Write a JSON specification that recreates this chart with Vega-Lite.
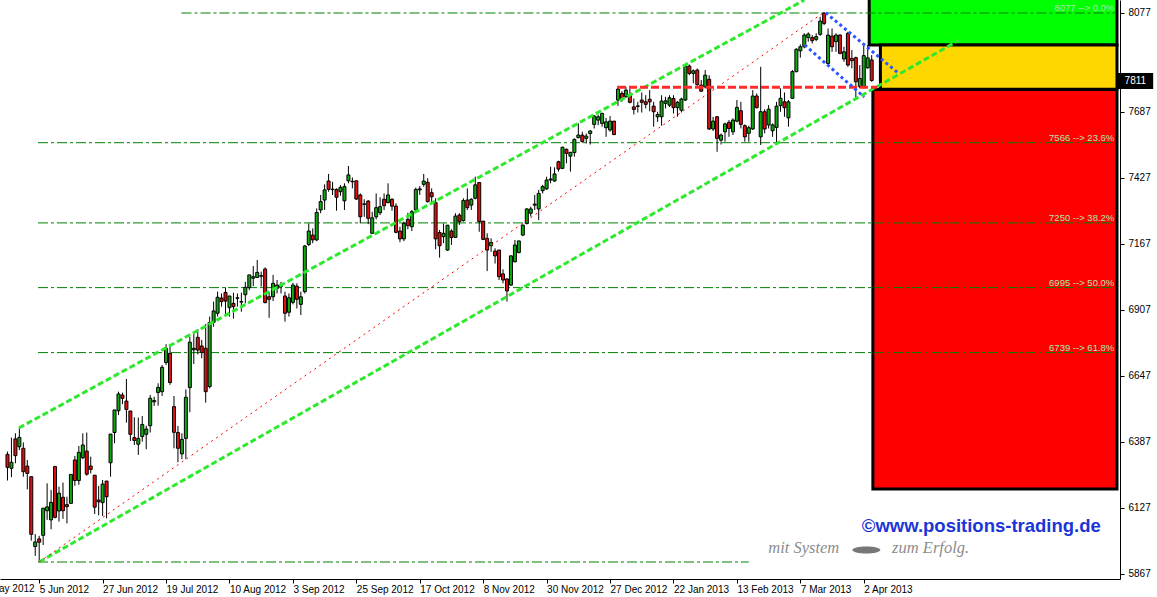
{
  "$schema": "https://vega.github.io/schema/vega-lite/v6.json",
  "width": 1120,
  "height": 579,
  "autosize": "none",
  "padding": {"left": 0, "top": 0, "right": 37, "bottom": 18},
  "background": "white",
  "config": {"view": {"stroke": null}},
  "layer": [
    {
      "data": {"values": [
        {"zone": "green", "k": 217.375, "k2": 279.875, "p": 7951, "p2": 8140},
        {"zone": "yellow", "k": 220.2, "k2": 279.875, "p": 7776.4, "p2": 7951},
        {"zone": "red", "k": 218.3, "k2": 279.875, "p": 6201.5, "p2": 7775.5}
      ]},
      "mark": {"type": "rect", "stroke": "black", "strokeWidth": 3},
      "encoding": {
        "x": {"field": "k", "type": "quantitative", "scale": {"domain": [-0.625, 279.375], "nice": false, "zero": false},
          "axis": {"orient": "bottom", "values": [8, 24, 40, 56, 72, 88, 104, 120, 136, 152, 168, 184, 200, 216],
            "labelExpr": "['5 Jun 2012','27 Jun 2012','19 Jul 2012','10 Aug 2012','3 Sep 2012','25 Sep 2012','17 Oct 2012','8 Nov 2012','30 Nov 2012','27 Dec 2012','22 Jan 2013','13 Feb 2013','7 Mar 2013','2 Apr 2013'][(datum.value-8)/16]",
            "labelAlign": "left", "labelBaseline": "top", "labelPadding": 1, "labelDx": 1, "tickSize": 4, "tickColor": "black",
            "domainColor": "black", "labelColor": "black", "labelFont": "Liberation Sans", "labelFontSize": 10,
            "grid": false, "title": null, "labelOverlap": false, "labelBound": false, "labelFlush": false}},
        "x2": {"field": "k2"},
        "y": {"field": "p", "type": "quantitative", "scale": {"domain": [5847, 8128.2], "nice": false, "zero": false},
          "axis": {"orient": "right", "values": [5867, 5997, 6127, 6257, 6387, 6517, 6647, 6777, 6907, 7037, 7167, 7297, 7427, 7557, 7687, 7947, 8077],
            "format": "d", "tickSize": 4, "tickColor": "black", "labelPadding": 4, "labelBaseline": "middle", "domainColor": "black", "labelColor": "black",
            "labelFont": "Liberation Sans", "labelFontSize": 10, "grid": false, "title": null, "labelOverlap": false, "labelBound": false, "labelFlush": false}},
        "y2": {"field": "p2"},
        "fill": {"field": "zone", "type": "nominal", "scale": {"domain": ["green", "yellow", "red"], "range": ["#00ff00", "#ffd700", "#ff0000"]}, "legend": null}
      }
    },
    {
      "data": {"values": [
        {"k": 43.9, "k2": 279.375, "p": 8077},
        {"k": 7.7, "k2": 279.375, "p": 7566},
        {"k": 7.7, "k2": 279.375, "p": 7250},
        {"k": 7.7, "k2": 279.375, "p": 6995},
        {"k": 7.7, "k2": 279.375, "p": 6739},
        {"k": 7.7, "k2": 187, "p": 5914}
      ]},
      "mark": {"type": "rule", "color": "#008000", "strokeWidth": 1, "strokeDash": [10, 3, 3, 3]},
      "encoding": {
        "x": {"field": "k", "type": "quantitative", "scale": {"domain": [-0.625, 279.375], "nice": false, "zero": false}, "axis": {"orient": "bottom", "title": null}},
        "x2": {"field": "k2"},
        "y": {"field": "p", "type": "quantitative", "scale": {"domain": [5847, 8128.2], "nice": false, "zero": false}, "axis": {"orient": "right", "title": null}}
      }
    },
    {
      "data": {"name": "candles", "values": [
        {"k":0,"o":6338,"h":6349,"l":6235,"c":6287},{"k":1,"o":6283,"h":6404,"l":6248,"c":6307},{"k":2,"o":6399,"h":6421,"l":6303,"c":6333},
        {"k":3,"o":6368,"h":6441,"l":6355,"c":6405},{"k":4,"o":6362,"h":6385,"l":6250,"c":6270},{"k":5,"o":6292,"h":6316,"l":6200,"c":6263},
        {"k":6,"o":6250,"h":6252,"l":5998,"c":6023},{"k":7,"o":5975,"h":6024,"l":5938,"c":5993},{"k":8,"o":6005,"h":6017,"l":5914,"c":5992},
        {"k":9,"o":6019,"h":6126,"l":5981,"c":6126},{"k":10,"o":6116,"h":6224,"l":6080,"c":6131},{"k":11,"o":6080,"h":6198,"l":6043,"c":6149},
        {"k":12,"o":6290,"h":6293,"l":6086,"c":6090},{"k":13,"o":6115,"h":6211,"l":6073,"c":6185},{"k":14,"o":6169,"h":6227,"l":6084,"c":6116},
        {"k":15,"o":6140,"h":6171,"l":6066,"c":6132},{"k":16,"o":6145,"h":6259,"l":6145,"c":6259},{"k":17,"o":6316,"h":6332,"l":6214,"c":6235},
        {"k":18,"o":6235,"h":6371,"l":6218,"c":6346},{"k":19,"o":6325,"h":6421,"l":6319,"c":6375},{"k":20,"o":6351,"h":6424,"l":6254,"c":6260},
        {"k":21,"o":6292,"h":6329,"l":6263,"c":6279},{"k":22,"o":6256,"h":6256,"l":6103,"c":6130},{"k":23,"o":6158,"h":6214,"l":6098,"c":6151},
        {"k":24,"o":6148,"h":6237,"l":6095,"c":6221},{"k":25,"o":6233,"h":6233,"l":6086,"c":6171},{"k":26,"o":6305,"h":6418,"l":6250,"c":6418},
        {"k":27,"o":6424,"h":6513,"l":6382,"c":6513},{"k":28,"o":6510,"h":6585,"l":6493,"c":6576},{"k":29,"o":6572,"h":6581,"l":6536,"c":6559},
        {"k":30,"o":6548,"h":6635,"l":6463,"c":6515},{"k":31,"o":6509,"h":6509,"l":6391,"c":6417},{"k":32,"o":6404,"h":6484,"l":6375,"c":6393},
        {"k":33,"o":6378,"h":6483,"l":6336,"c":6401},{"k":34,"o":6408,"h":6489,"l":6388,"c":6456},{"k":35,"o":6417,"h":6451,"l":6358,"c":6438},
        {"k":36,"o":6451,"h":6572,"l":6424,"c":6559},{"k":37,"o":6545,"h":6565,"l":6529,"c":6550},{"k":38,"o":6582,"h":6618,"l":6530,"c":6602},
        {"k":39,"o":6585,"h":6690,"l":6568,"c":6681},{"k":40,"o":6700,"h":6772,"l":6690,"c":6756},{"k":41,"o":6736,"h":6769,"l":6612,"c":6621},
        {"k":42,"o":6526,"h":6568,"l":6362,"c":6425},{"k":43,"o":6424,"h":6450,"l":6307,"c":6362},{"k":44,"o":6340,"h":6421,"l":6319,"c":6397},
        {"k":45,"o":6401,"h":6594,"l":6319,"c":6563},{"k":46,"o":6601,"h":6802,"l":6504,"c":6780},{"k":47,"o":6750,"h":6812,"l":6694,"c":6756},
        {"k":48,"o":6799,"h":6831,"l":6732,"c":6749},{"k":49,"o":6765,"h":6789,"l":6717,"c":6739},{"k":50,"o":6756,"h":6852,"l":6542,"c":6585},
        {"k":51,"o":6605,"h":6881,"l":6598,"c":6858},{"k":52,"o":6858,"h":6940,"l":6841,"c":6903},{"k":53,"o":6894,"h":6979,"l":6881,"c":6957},
        {"k":54,"o":6954,"h":6972,"l":6920,"c":6940},{"k":55,"o":6976,"h":6996,"l":6885,"c":6942},{"k":56,"o":6916,"h":6962,"l":6881,"c":6962},
        {"k":57,"o":6933,"h":6975,"l":6873,"c":6920},{"k":58,"o":6953,"h":6972,"l":6920,"c":6955},{"k":59,"o":6938,"h":6975,"l":6900,"c":6940},
        {"k":60,"o":6967,"h":7018,"l":6933,"c":6996},{"k":61,"o":6995,"h":7045,"l":6985,"c":7045},{"k":62,"o":7032,"h":7080,"l":7001,"c":7038},
        {"k":63,"o":7035,"h":7104,"l":7035,"c":7055},{"k":64,"o":7040,"h":7058,"l":6999,"c":7042},{"k":65,"o":7068,"h":7075,"l":6933,"c":6936},
        {"k":66,"o":6959,"h":6979,"l":6876,"c":6949},{"k":67,"o":6959,"h":7045,"l":6942,"c":7012},{"k":68,"o":6992,"h":7025,"l":6972,"c":7005},
        {"k":69,"o":7000,"h":7018,"l":6972,"c":7002},{"k":70,"o":6962,"h":6979,"l":6861,"c":6894},{"k":71,"o":6898,"h":6972,"l":6881,"c":6955},
        {"k":72,"o":6937,"h":7014,"l":6929,"c":7005},{"k":73,"o":7001,"h":7012,"l":6913,"c":6949},{"k":74,"o":6929,"h":6979,"l":6887,"c":6959},
        {"k":75,"o":6979,"h":7163,"l":6972,"c":7159},{"k":76,"o":7165,"h":7248,"l":7159,"c":7218},{"k":77,"o":7202,"h":7228,"l":7170,"c":7183},
        {"k":78,"o":7183,"h":7307,"l":7178,"c":7291},{"k":79,"o":7301,"h":7360,"l":7288,"c":7334},{"k":80,"o":7340,"h":7402,"l":7301,"c":7380},
        {"k":81,"o":7415,"h":7443,"l":7373,"c":7382},{"k":82,"o":7381,"h":7412,"l":7360,"c":7383},{"k":83,"o":7382,"h":7386,"l":7298,"c":7351},
        {"k":84,"o":7373,"h":7399,"l":7357,"c":7390},{"k":85,"o":7337,"h":7406,"l":7301,"c":7393},{"k":86,"o":7416,"h":7474,"l":7406,"c":7439},
        {"k":87,"o":7414,"h":7429,"l":7386,"c":7412},{"k":88,"o":7416,"h":7416,"l":7340,"c":7344},{"k":89,"o":7360,"h":7366,"l":7248,"c":7274},
        {"k":90,"o":7325,"h":7343,"l":7274,"c":7323},{"k":91,"o":7336,"h":7340,"l":7245,"c":7268},{"k":92,"o":7209,"h":7294,"l":7206,"c":7270},
        {"k":93,"o":7274,"h":7366,"l":7264,"c":7310},{"k":94,"o":7290,"h":7351,"l":7281,"c":7314},{"k":95,"o":7343,"h":7366,"l":7301,"c":7318},
        {"k":96,"o":7330,"h":7406,"l":7327,"c":7360},{"k":97,"o":7343,"h":7347,"l":7298,"c":7316},{"k":98,"o":7316,"h":7327,"l":7209,"c":7213},
        {"k":99,"o":7218,"h":7235,"l":7174,"c":7187},{"k":100,"o":7187,"h":7255,"l":7178,"c":7248},{"k":101,"o":7264,"h":7290,"l":7225,"c":7239},
        {"k":102,"o":7235,"h":7301,"l":7218,"c":7294},{"k":103,"o":7301,"h":7389,"l":7294,"c":7382},{"k":104,"o":7380,"h":7395,"l":7360,"c":7384},
        {"k":105,"o":7402,"h":7443,"l":7393,"c":7415},{"k":106,"o":7410,"h":7426,"l":7330,"c":7334},{"k":107,"o":7369,"h":7386,"l":7327,"c":7353},
        {"k":108,"o":7330,"h":7347,"l":7146,"c":7187},{"k":109,"o":7212,"h":7222,"l":7113,"c":7160},{"k":110,"o":7196,"h":7248,"l":7170,"c":7209},
        {"k":111,"o":7143,"h":7241,"l":7140,"c":7241},{"k":112,"o":7218,"h":7225,"l":7163,"c":7192},{"k":113,"o":7193,"h":7288,"l":7192,"c":7277},
        {"k":114,"o":7281,"h":7288,"l":7242,"c":7255},{"k":115,"o":7259,"h":7347,"l":7255,"c":7338},{"k":116,"o":7340,"h":7386,"l":7301,"c":7310},
        {"k":117,"o":7320,"h":7347,"l":7301,"c":7343},{"k":118,"o":7347,"h":7432,"l":7343,"c":7400},{"k":119,"o":7409,"h":7409,"l":7215,"c":7255},
        {"k":120,"o":7257,"h":7257,"l":7182,"c":7185},{"k":121,"o":7189,"h":7209,"l":7060,"c":7143},{"k":122,"o":7160,"h":7189,"l":7136,"c":7173},
        {"k":123,"o":7139,"h":7150,"l":7090,"c":7120},{"k":124,"o":7143,"h":7143,"l":7025,"c":7038},{"k":125,"o":7049,"h":7067,"l":7012,"c":7025},
        {"k":126,"o":7029,"h":7032,"l":6940,"c":6982},{"k":127,"o":7005,"h":7123,"l":7002,"c":7120},{"k":128,"o":7097,"h":7183,"l":7094,"c":7163},
        {"k":129,"o":7133,"h":7179,"l":7130,"c":7179},{"k":130,"o":7202,"h":7244,"l":7198,"c":7241},{"k":131,"o":7248,"h":7308,"l":7244,"c":7305},
        {"k":132,"o":7288,"h":7314,"l":7275,"c":7305},{"k":133,"o":7320,"h":7360,"l":7301,"c":7324},{"k":134,"o":7305,"h":7380,"l":7261,"c":7366},
        {"k":135,"o":7377,"h":7400,"l":7366,"c":7393},{"k":136,"o":7384,"h":7432,"l":7380,"c":7419},{"k":137,"o":7419,"h":7471,"l":7406,"c":7423},
        {"k":138,"o":7415,"h":7469,"l":7412,"c":7443},{"k":139,"o":7491,"h":7495,"l":7452,"c":7462},{"k":140,"o":7465,"h":7550,"l":7462,"c":7548},
        {"k":141,"o":7540,"h":7543,"l":7485,"c":7524},{"k":142,"o":7513,"h":7530,"l":7452,"c":7528},{"k":143,"o":7527,"h":7583,"l":7511,"c":7579},
        {"k":144,"o":7586,"h":7642,"l":7583,"c":7596},{"k":145,"o":7596,"h":7609,"l":7566,"c":7571},{"k":146,"o":7583,"h":7602,"l":7563,"c":7592},
        {"k":147,"o":7602,"h":7616,"l":7559,"c":7612},{"k":148,"o":7638,"h":7675,"l":7622,"c":7671},{"k":149,"o":7655,"h":7677,"l":7635,"c":7668},
        {"k":150,"o":7642,"h":7685,"l":7629,"c":7681},{"k":151,"o":7625,"h":7664,"l":7589,"c":7648},{"k":152,"o":7616,"h":7671,"l":7609,"c":7651},
        {"k":153,"o":7651,"h":7651,"l":7596,"c":7598},{"k":154,"o":7734,"h":7790,"l":7711,"c":7777},{"k":155,"o":7760,"h":7769,"l":7727,"c":7740},
        {"k":156,"o":7747,"h":7786,"l":7743,"c":7773},{"k":157,"o":7753,"h":7780,"l":7721,"c":7725},{"k":158,"o":7707,"h":7740,"l":7677,"c":7697},
        {"k":159,"o":7711,"h":7727,"l":7685,"c":7709},{"k":160,"o":7734,"h":7764,"l":7685,"c":7725},{"k":161,"o":7727,"h":7753,"l":7701,"c":7717},
        {"k":162,"o":7737,"h":7773,"l":7690,"c":7727},{"k":163,"o":7710,"h":7727,"l":7629,"c":7688},{"k":164,"o":7668,"h":7688,"l":7648,"c":7677},
        {"k":165,"o":7668,"h":7753,"l":7633,"c":7730},{"k":166,"o":7721,"h":7747,"l":7701,"c":7731},{"k":167,"o":7714,"h":7753,"l":7707,"c":7743},
        {"k":168,"o":7740,"h":7753,"l":7681,"c":7704},{"k":169,"o":7704,"h":7730,"l":7668,"c":7725},{"k":170,"o":7694,"h":7743,"l":7685,"c":7738},
        {"k":171,"o":7734,"h":7874,"l":7730,"c":7868},{"k":172,"o":7868,"h":7874,"l":7832,"c":7839},{"k":173,"o":7839,"h":7855,"l":7800,"c":7849},
        {"k":174,"o":7852,"h":7858,"l":7790,"c":7795},{"k":175,"o":7793,"h":7813,"l":7767,"c":7769},{"k":176,"o":7786,"h":7852,"l":7780,"c":7832},
        {"k":177,"o":7816,"h":7832,"l":7616,"c":7620},{"k":178,"o":7620,"h":7668,"l":7612,"c":7651},{"k":179,"o":7668,"h":7671,"l":7530,"c":7583},
        {"k":180,"o":7576,"h":7602,"l":7559,"c":7596},{"k":181,"o":7609,"h":7645,"l":7570,"c":7640},{"k":182,"o":7646,"h":7655,"l":7589,"c":7622},
        {"k":183,"o":7609,"h":7662,"l":7596,"c":7655},{"k":184,"o":7651,"h":7734,"l":7646,"c":7705},{"k":185,"o":7692,"h":7727,"l":7622,"c":7638},
        {"k":186,"o":7633,"h":7638,"l":7570,"c":7589},{"k":187,"o":7603,"h":7633,"l":7570,"c":7625},{"k":188,"o":7620,"h":7773,"l":7616,"c":7750},
        {"k":189,"o":7750,"h":7760,"l":7701,"c":7704},{"k":190,"o":7589,"h":7865,"l":7557,"c":7688},{"k":191,"o":7688,"h":7698,"l":7603,"c":7620},
        {"k":192,"o":7636,"h":7714,"l":7622,"c":7698},{"k":193,"o":7613,"h":7642,"l":7589,"c":7636},{"k":194,"o":7626,"h":7727,"l":7563,"c":7710},
        {"k":195,"o":7712,"h":7780,"l":7688,"c":7741},{"k":196,"o":7727,"h":7764,"l":7668,"c":7704},{"k":197,"o":7664,"h":7734,"l":7629,"c":7727},
        {"k":198,"o":7741,"h":7852,"l":7738,"c":7846},{"k":199,"o":7846,"h":7938,"l":7843,"c":7934},{"k":200,"o":7928,"h":7953,"l":7901,"c":7944},
        {"k":201,"o":7944,"h":7997,"l":7938,"c":7990},{"k":202,"o":7980,"h":8001,"l":7964,"c":7994},{"k":203,"o":7980,"h":7990,"l":7957,"c":7968},
        {"k":204,"o":7973,"h":7997,"l":7966,"c":7984},{"k":205,"o":7993,"h":8062,"l":7987,"c":8045},{"k":206,"o":8076,"h":8080,"l":8029,"c":8036},
        {"k":207,"o":7878,"h":8016,"l":7874,"c":7990},{"k":208,"o":7986,"h":8016,"l":7924,"c":7944},{"k":209,"o":7964,"h":7997,"l":7924,"c":7990},
        {"k":210,"o":7990,"h":7993,"l":7914,"c":7918},{"k":211,"o":7896,"h":7944,"l":7885,"c":7924},{"k":212,"o":7997,"h":8003,"l":7865,"c":7872},
        {"k":213,"o":7898,"h":7931,"l":7859,"c":7889},{"k":214,"o":7901,"h":7905,"l":7743,"c":7806},{"k":215,"o":7787,"h":7872,"l":7780,"c":7819},
        {"k":216,"o":7783,"h":7948,"l":7780,"c":7909},{"k":217,"o":7861,"h":7950,"l":7858,"c":7900},{"k":218,"o":7892,"h":7911,"l":7806,"c":7811}
      ]},
      "layer": [
        {
          "mark": {"type": "rule", "color": "black", "strokeWidth": 1},
          "encoding": {
            "x": {"field": "k", "type": "quantitative", "scale": {"domain": [-0.625, 279.375], "nice": false, "zero": false}, "axis": {"orient": "bottom", "title": null}},
            "y": {"field": "l", "type": "quantitative", "scale": {"domain": [5847, 8128.2], "nice": false, "zero": false}, "axis": {"orient": "right", "title": null}},
            "y2": {"field": "h"}
          }
        },
        {
          "mark": {"type": "bar", "size": 3, "stroke": "black", "strokeWidth": 1},
          "encoding": {
            "x": {"field": "k", "type": "quantitative", "scale": {"domain": [-0.625, 279.375], "nice": false, "zero": false}, "axis": {"orient": "bottom", "title": null}},
            "y": {"field": "o", "type": "quantitative", "scale": {"domain": [5847, 8128.2], "nice": false, "zero": false}, "axis": {"orient": "right", "title": null}},
            "y2": {"field": "c"},
            "fill": {"condition": {"test": "datum.c >= datum.o", "value": "#10a810"}, "value": "#e01010"}
          }
        }
      ]
    },
    {
      "data": {"values": [
        {"k": 2.875, "p": 6442, "k2": 201, "p2": 8128},
        {"k": 8, "p": 5914, "k2": 240.1, "p2": 7970.6}
      ]},
      "mark": {"type": "rule", "color": "#2ee82e", "strokeWidth": 3, "strokeDash": [6, 3]},
      "encoding": {
        "x": {"field": "k", "type": "quantitative", "scale": {"domain": [-0.625, 279.375], "nice": false, "zero": false}, "axis": {"orient": "bottom", "title": null}},
        "y": {"field": "p", "type": "quantitative", "scale": {"domain": [5847, 8128.2], "nice": false, "zero": false}, "axis": {"orient": "right", "title": null}},
        "x2": {"field": "k2"},
        "y2": {"field": "p2"}
      }
    },
    {
      "data": {"values": [{"k": 8, "p": 5914, "k2": 206, "p2": 8080}]},
      "mark": {"type": "rule", "color": "#ff0000", "strokeWidth": 1, "strokeDash": [2, 4]},
      "encoding": {
        "x": {"field": "k", "type": "quantitative", "scale": {"domain": [-0.625, 279.375], "nice": false, "zero": false}, "axis": {"orient": "bottom", "title": null}},
        "y": {"field": "p", "type": "quantitative", "scale": {"domain": [5847, 8128.2], "nice": false, "zero": false}, "axis": {"orient": "right", "title": null}},
        "x2": {"field": "k2"},
        "y2": {"field": "p2"}
      }
    },
    {
      "data": {"values": [{"k": 154, "p": 7784, "k2": 219.4, "p2": 7784}]},
      "mark": {"type": "rule", "color": "#ff2a2a", "strokeWidth": 3, "strokeDash": [8, 3]},
      "encoding": {
        "x": {"field": "k", "type": "quantitative", "scale": {"domain": [-0.625, 279.375], "nice": false, "zero": false}, "axis": {"orient": "bottom", "title": null}},
        "y": {"field": "p", "type": "quantitative", "scale": {"domain": [5847, 8128.2], "nice": false, "zero": false}, "axis": {"orient": "right", "title": null}},
        "x2": {"field": "k2"},
        "y2": {"field": "p2"}
      }
    },
    {
      "data": {"values": [
        {"k": 206.4, "p": 8078, "k2": 224.8, "p2": 7839},
        {"k": 201.1, "p": 7951, "k2": 216.1, "p2": 7746}
      ]},
      "mark": {"type": "rule", "color": "#2a55ff", "strokeWidth": 3, "strokeDash": [3, 3]},
      "encoding": {
        "x": {"field": "k", "type": "quantitative", "scale": {"domain": [-0.625, 279.375], "nice": false, "zero": false}, "axis": {"orient": "bottom", "title": null}},
        "y": {"field": "p", "type": "quantitative", "scale": {"domain": [5847, 8128.2], "nice": false, "zero": false}, "axis": {"orient": "right", "title": null}},
        "x2": {"field": "k2"},
        "y2": {"field": "p2"}
      }
    },
    {
      "data": {"values": [
        {"k": 279.2, "p": 8077, "t": "8077 --> 0.0%"},
        {"k": 279.2, "p": 7566, "t": "7566 --> 23.6%"},
        {"k": 279.2, "p": 7250, "t": "7250 --> 38.2%"},
        {"k": 279.2, "p": 6995, "t": "6995 --> 50.0%"},
        {"k": 279.2, "p": 6739, "t": "6739 --> 61.8%"}
      ]},
      "mark": {"type": "text", "align": "right", "baseline": "alphabetic", "dy": -2, "font": "Liberation Sans", "fontSize": 9.5, "color": "#a6e8b0"},
      "encoding": {
        "x": {"field": "k", "type": "quantitative", "scale": {"domain": [-0.625, 279.375], "nice": false, "zero": false}, "axis": {"orient": "bottom", "title": null}},
        "y": {"field": "p", "type": "quantitative", "scale": {"domain": [5847, 8128.2], "nice": false, "zero": false}, "axis": {"orient": "right", "title": null}},
        "text": {"field": "t"}
      }
    },
    {
      "data": {"values": [{"k": 279.875, "k2": 289, "p": 7777.5, "p2": 7840.6}]},
      "mark": {"type": "rect", "fill": "black"},
      "encoding": {
        "x": {"field": "k", "type": "quantitative", "scale": {"domain": [-0.625, 279.375], "nice": false, "zero": false}, "axis": {"orient": "bottom", "title": null}},
        "x2": {"field": "k2"},
        "y": {"field": "p", "type": "quantitative", "scale": {"domain": [5847, 8128.2], "nice": false, "zero": false}, "axis": {"orient": "right", "title": null}},
        "y2": {"field": "p2"}
      }
    },
    {
      "data": {"values": [{"k": 281.8, "p": 7809, "t": "7811"}]},
      "mark": {"type": "text", "align": "left", "baseline": "middle", "font": "Liberation Sans", "fontSize": 10, "color": "white"},
      "encoding": {
        "x": {"field": "k", "type": "quantitative", "scale": {"domain": [-0.625, 279.375], "nice": false, "zero": false}, "axis": {"orient": "bottom", "title": null}},
        "y": {"field": "p", "type": "quantitative", "scale": {"domain": [5847, 8128.2], "nice": false, "zero": false}, "axis": {"orient": "right", "title": null}},
        "text": {"field": "t"}
      }
    },
    {
      "data": {"values": [{"k": -8, "p": 5847, "t": "14 May 2012"}]},
      "mark": {"type": "text", "align": "left", "baseline": "top", "dx": 1, "dy": 5, "font": "Liberation Sans", "fontSize": 10, "color": "black"},
      "encoding": {
        "x": {"field": "k", "type": "quantitative", "scale": {"domain": [-0.625, 279.375], "nice": false, "zero": false}, "axis": {"orient": "bottom", "title": null}},
        "y": {"field": "p", "type": "quantitative", "scale": {"domain": [5847, 8128.2], "nice": false, "zero": false}, "axis": {"orient": "right", "title": null}},
        "text": {"field": "t"}
      }
    },
    {
      "data": {"values": [{"k": 245.65, "p": 6055.8, "t": "©www.positions-trading.de"}]},
      "mark": {"type": "text", "align": "center", "baseline": "middle", "font": "Liberation Sans", "fontWeight": "bold", "fontSize": 18.5, "color": "#1b35d6"},
      "encoding": {
        "x": {"field": "k", "type": "quantitative", "scale": {"domain": [-0.625, 279.375], "nice": false, "zero": false}, "axis": {"orient": "bottom", "title": null}},
        "y": {"field": "p", "type": "quantitative", "scale": {"domain": [5847, 8128.2], "nice": false, "zero": false}, "axis": {"orient": "right", "title": null}},
        "text": {"field": "t"}
      }
    },
    {
      "data": {"values": [
        {"k": 191.9, "p": 5949.4, "t": "mit System"},
        {"k": 223.15, "p": 5949.4, "t": "zum Erfolg."}
      ]},
      "mark": {"type": "text", "align": "left", "baseline": "alphabetic", "font": "Liberation Serif", "fontStyle": "italic", "fontSize": 16.5, "color": "#8c8c8c"},
      "encoding": {
        "x": {"field": "k", "type": "quantitative", "scale": {"domain": [-0.625, 279.375], "nice": false, "zero": false}, "axis": {"orient": "bottom", "title": null}},
        "y": {"field": "p", "type": "quantitative", "scale": {"domain": [5847, 8128.2], "nice": false, "zero": false}, "axis": {"orient": "right", "title": null}},
        "text": {"field": "t"}
      }
    },
    {
      "data": {"values": [{"k": 216.65, "p": 5961}]},
      "mark": {"type": "point", "filled": true, "shape": "M-1,0A1,0.25,0,1,1,1,0A1,0.25,0,1,1,-1,0Z", "size": 784, "color": "#777777", "opacity": 1},
      "encoding": {
        "x": {"field": "k", "type": "quantitative", "scale": {"domain": [-0.625, 279.375], "nice": false, "zero": false}, "axis": {"orient": "bottom", "title": null}},
        "y": {"field": "p", "type": "quantitative", "scale": {"domain": [5847, 8128.2], "nice": false, "zero": false}, "axis": {"orient": "right", "title": null}}
      }
    }
  ]
}
